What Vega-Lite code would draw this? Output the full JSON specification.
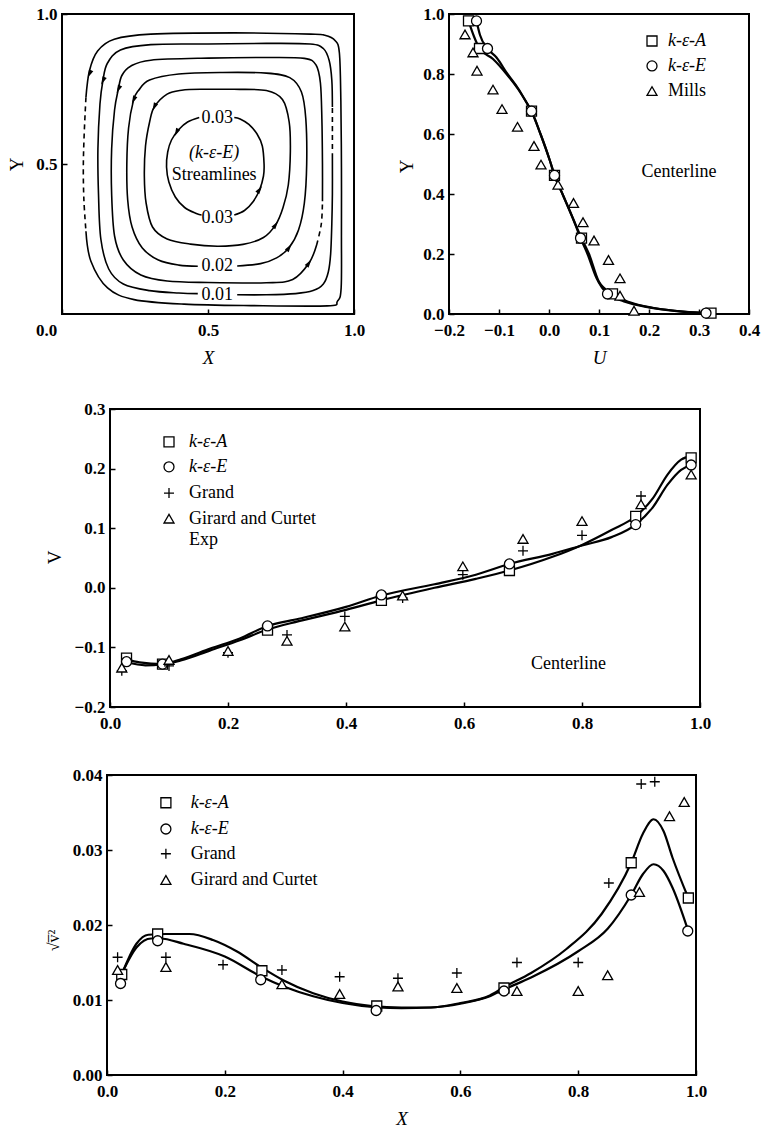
{
  "$schema": "https://vega.github.io/schema/vega-lite/v6.json",
  "background": "white",
  "padding": {"left": 4, "top": 4, "right": 0, "bottom": 0},
  "config": {
    "view": {"stroke": "black", "strokeWidth": 2},
    "font": "Liberation Serif",
    "axis": {"domain": false, "grid": false, "tickSize": -5, "tickColor": "black", "tickWidth": 1.5, "labelFont": "Liberation Serif", "labelFontSize": 17, "labelFontWeight": "bold", "labelColor": "black", "titleFont": "Liberation Serif", "titleFontSize": 19, "titleFontWeight": "normal", "titleColor": "black", "labelFlush": false, "labelOverlap": false},
    "axisX": {"labelPadding": 13, "titlePadding": 10},
    "axisY": {"labelPadding": 10, "titleAngle": 270, "titleBaseline": "middle", "titleAlign": "center"},
    "text": {"font": "Liberation Serif", "fontSize": 18, "color": "black"}
  },
  "datasets": {
    "one": [{}],
    "stream": [
      {"seg": "L1", "i": 1, "x": 0.082, "y": 0.722}, {"seg": "L1", "i": 2, "x": 0.094, "y": 0.811}, {"seg": "L1", "i": 3, "x": 0.122, "y": 0.877}, {"seg": "L1", "i": 4, "x": 0.179, "y": 0.916}, {"seg": "L1", "i": 5, "x": 0.304, "y": 0.933}, {"seg": "L1", "i": 6, "x": 0.589, "y": 0.937}, {"seg": "L1", "i": 7, "x": 0.852, "y": 0.933}, {"seg": "L1", "i": 8, "x": 0.9, "y": 0.929}, {"seg": "L1", "i": 9, "x": 0.935, "y": 0.912}, {"seg": "L1", "i": 10, "x": 0.95, "y": 0.87}, {"seg": "L1", "i": 11, "x": 0.955, "y": 0.71}, {"seg": "L1", "i": 12, "x": 0.957, "y": 0.488}, {"seg": "L1", "i": 13, "x": 0.957, "y": 0.265}, {"seg": "L1", "i": 14, "x": 0.956, "y": 0.087}, {"seg": "L1", "i": 15, "x": 0.943, "y": 0.042}, {"seg": "L1", "i": 16, "x": 0.909, "y": 0.027}, {"seg": "L1", "i": 17, "x": 0.647, "y": 0.028}, {"seg": "L1", "i": 18, "x": 0.418, "y": 0.033}, {"seg": "L1", "i": 19, "x": 0.247, "y": 0.048}, {"seg": "L1", "i": 20, "x": 0.156, "y": 0.087}, {"seg": "L1", "i": 21, "x": 0.099, "y": 0.176}, {"seg": "L1", "i": 22, "x": 0.082, "y": 0.276},
      {"seg": "L2a", "i": 1, "x": 0.6, "y": 0.064}, {"seg": "L2a", "i": 2, "x": 0.7, "y": 0.064}, {"seg": "L2a", "i": 3, "x": 0.8, "y": 0.068}, {"seg": "L2a", "i": 4, "x": 0.86, "y": 0.078}, {"seg": "L2a", "i": 5, "x": 0.895, "y": 0.1}, {"seg": "L2a", "i": 6, "x": 0.912, "y": 0.14}, {"seg": "L2a", "i": 7, "x": 0.92, "y": 0.2}, {"seg": "L2a", "i": 8, "x": 0.924, "y": 0.3}, {"seg": "L2a", "i": 9, "x": 0.926, "y": 0.4}, {"seg": "L2a", "i": 10, "x": 0.926, "y": 0.52},
      {"seg": "L2b", "i": 1, "x": 0.926, "y": 0.69}, {"seg": "L2b", "i": 2, "x": 0.924, "y": 0.78}, {"seg": "L2b", "i": 3, "x": 0.915, "y": 0.845}, {"seg": "L2b", "i": 4, "x": 0.895, "y": 0.885}, {"seg": "L2b", "i": 5, "x": 0.85, "y": 0.9}, {"seg": "L2b", "i": 6, "x": 0.7, "y": 0.902}, {"seg": "L2b", "i": 7, "x": 0.5, "y": 0.9}, {"seg": "L2b", "i": 8, "x": 0.304, "y": 0.898}, {"seg": "L2b", "i": 9, "x": 0.2, "y": 0.88}, {"seg": "L2b", "i": 10, "x": 0.155, "y": 0.835}, {"seg": "L2b", "i": 11, "x": 0.14, "y": 0.777}, {"seg": "L2b", "i": 12, "x": 0.13, "y": 0.7}, {"seg": "L2b", "i": 13, "x": 0.123, "y": 0.55}, {"seg": "L2b", "i": 14, "x": 0.125, "y": 0.4}, {"seg": "L2b", "i": 15, "x": 0.133, "y": 0.25}, {"seg": "L2b", "i": 16, "x": 0.16, "y": 0.15}, {"seg": "L2b", "i": 17, "x": 0.21, "y": 0.1}, {"seg": "L2b", "i": 18, "x": 0.3, "y": 0.078}, {"seg": "L2b", "i": 19, "x": 0.4, "y": 0.07}, {"seg": "L2b", "i": 20, "x": 0.465, "y": 0.068},
      {"seg": "L3", "i": 1, "x": 0.892, "y": 0.376}, {"seg": "L3", "i": 2, "x": 0.892, "y": 0.5}, {"seg": "L3", "i": 3, "x": 0.89, "y": 0.65}, {"seg": "L3", "i": 4, "x": 0.885, "y": 0.77}, {"seg": "L3", "i": 5, "x": 0.87, "y": 0.83}, {"seg": "L3", "i": 6, "x": 0.83, "y": 0.852}, {"seg": "L3", "i": 7, "x": 0.7, "y": 0.855}, {"seg": "L3", "i": 8, "x": 0.5, "y": 0.853}, {"seg": "L3", "i": 9, "x": 0.304, "y": 0.846}, {"seg": "L3", "i": 10, "x": 0.235, "y": 0.826}, {"seg": "L3", "i": 11, "x": 0.205, "y": 0.795}, {"seg": "L3", "i": 12, "x": 0.193, "y": 0.749}, {"seg": "L3", "i": 13, "x": 0.18, "y": 0.68}, {"seg": "L3", "i": 14, "x": 0.17, "y": 0.55}, {"seg": "L3", "i": 15, "x": 0.17, "y": 0.4}, {"seg": "L3", "i": 16, "x": 0.18, "y": 0.26}, {"seg": "L3", "i": 17, "x": 0.21, "y": 0.18}, {"seg": "L3", "i": 18, "x": 0.27, "y": 0.13}, {"seg": "L3", "i": 19, "x": 0.36, "y": 0.11}, {"seg": "L3", "i": 20, "x": 0.5, "y": 0.105}, {"seg": "L3", "i": 21, "x": 0.7, "y": 0.104}, {"seg": "L3", "i": 22, "x": 0.79, "y": 0.115}, {"seg": "L3", "i": 23, "x": 0.846, "y": 0.17}, {"seg": "L3", "i": 24, "x": 0.872, "y": 0.23},
      {"seg": "L4", "i": 1, "x": 0.6, "y": 0.16}, {"seg": "L4", "i": 2, "x": 0.68, "y": 0.168}, {"seg": "L4", "i": 3, "x": 0.735, "y": 0.187}, {"seg": "L4", "i": 4, "x": 0.778, "y": 0.222}, {"seg": "L4", "i": 5, "x": 0.81, "y": 0.28}, {"seg": "L4", "i": 6, "x": 0.83, "y": 0.37}, {"seg": "L4", "i": 7, "x": 0.838, "y": 0.5}, {"seg": "L4", "i": 8, "x": 0.835, "y": 0.65}, {"seg": "L4", "i": 9, "x": 0.82, "y": 0.74}, {"seg": "L4", "i": 10, "x": 0.78, "y": 0.788}, {"seg": "L4", "i": 11, "x": 0.7, "y": 0.803}, {"seg": "L4", "i": 12, "x": 0.55, "y": 0.805}, {"seg": "L4", "i": 13, "x": 0.4, "y": 0.8}, {"seg": "L4", "i": 14, "x": 0.3, "y": 0.78}, {"seg": "L4", "i": 15, "x": 0.262, "y": 0.745}, {"seg": "L4", "i": 16, "x": 0.245, "y": 0.713}, {"seg": "L4", "i": 17, "x": 0.228, "y": 0.62}, {"seg": "L4", "i": 18, "x": 0.222, "y": 0.5}, {"seg": "L4", "i": 19, "x": 0.225, "y": 0.38}, {"seg": "L4", "i": 20, "x": 0.24, "y": 0.29}, {"seg": "L4", "i": 21, "x": 0.275, "y": 0.22}, {"seg": "L4", "i": 22, "x": 0.33, "y": 0.18}, {"seg": "L4", "i": 23, "x": 0.4, "y": 0.163}, {"seg": "L4", "i": 24, "x": 0.465, "y": 0.159},
      {"seg": "L5", "i": 1, "x": 0.475, "y": 0.749}, {"seg": "L5", "i": 2, "x": 0.589, "y": 0.749}, {"seg": "L5", "i": 3, "x": 0.7, "y": 0.745}, {"seg": "L5", "i": 4, "x": 0.755, "y": 0.715}, {"seg": "L5", "i": 5, "x": 0.778, "y": 0.64}, {"seg": "L5", "i": 6, "x": 0.782, "y": 0.54}, {"seg": "L5", "i": 7, "x": 0.775, "y": 0.43}, {"seg": "L5", "i": 8, "x": 0.757, "y": 0.355}, {"seg": "L5", "i": 9, "x": 0.732, "y": 0.298}, {"seg": "L5", "i": 10, "x": 0.69, "y": 0.255}, {"seg": "L5", "i": 11, "x": 0.62, "y": 0.232}, {"seg": "L5", "i": 12, "x": 0.532, "y": 0.226}, {"seg": "L5", "i": 13, "x": 0.44, "y": 0.233}, {"seg": "L5", "i": 14, "x": 0.36, "y": 0.25}, {"seg": "L5", "i": 15, "x": 0.31, "y": 0.29}, {"seg": "L5", "i": 16, "x": 0.288, "y": 0.37}, {"seg": "L5", "i": 17, "x": 0.282, "y": 0.46}, {"seg": "L5", "i": 18, "x": 0.286, "y": 0.56}, {"seg": "L5", "i": 19, "x": 0.3, "y": 0.64}, {"seg": "L5", "i": 20, "x": 0.316, "y": 0.69}, {"seg": "L5", "i": 21, "x": 0.36, "y": 0.733}, {"seg": "L5", "i": 22, "x": 0.41, "y": 0.746}, {"seg": "L5", "i": 23, "x": 0.475, "y": 0.749},
      {"seg": "L6a", "i": 1, "x": 0.47, "y": 0.655}, {"seg": "L6a", "i": 2, "x": 0.43, "y": 0.64}, {"seg": "L6a", "i": 3, "x": 0.4, "y": 0.615}, {"seg": "L6a", "i": 4, "x": 0.375, "y": 0.58}, {"seg": "L6a", "i": 5, "x": 0.362, "y": 0.54}, {"seg": "L6a", "i": 6, "x": 0.358, "y": 0.49}, {"seg": "L6a", "i": 7, "x": 0.366, "y": 0.44}, {"seg": "L6a", "i": 8, "x": 0.388, "y": 0.39}, {"seg": "L6a", "i": 9, "x": 0.42, "y": 0.355}, {"seg": "L6a", "i": 10, "x": 0.46, "y": 0.335}, {"seg": "L6a", "i": 11, "x": 0.478, "y": 0.33},
      {"seg": "L6b", "i": 1, "x": 0.59, "y": 0.33}, {"seg": "L6b", "i": 2, "x": 0.625, "y": 0.345}, {"seg": "L6b", "i": 3, "x": 0.655, "y": 0.375}, {"seg": "L6b", "i": 4, "x": 0.677, "y": 0.415}, {"seg": "L6b", "i": 5, "x": 0.69, "y": 0.46}, {"seg": "L6b", "i": 6, "x": 0.692, "y": 0.5}, {"seg": "L6b", "i": 7, "x": 0.686, "y": 0.56}, {"seg": "L6b", "i": 8, "x": 0.668, "y": 0.6}, {"seg": "L6b", "i": 9, "x": 0.64, "y": 0.632}, {"seg": "L6b", "i": 10, "x": 0.61, "y": 0.65}, {"seg": "L6b", "i": 11, "x": 0.59, "y": 0.655}
    ],
    "streamDash": [
      {"seg": "D1", "i": 1, "x": 0.082, "y": 0.722}, {"seg": "D1", "i": 2, "x": 0.076, "y": 0.6}, {"seg": "D1", "i": 3, "x": 0.073, "y": 0.49}, {"seg": "D1", "i": 4, "x": 0.075, "y": 0.38}, {"seg": "D1", "i": 5, "x": 0.082, "y": 0.276},
      {"seg": "D2", "i": 1, "x": 0.926, "y": 0.52}, {"seg": "D2", "i": 2, "x": 0.926, "y": 0.6}, {"seg": "D2", "i": 3, "x": 0.926, "y": 0.69},
      {"seg": "D3", "i": 1, "x": 0.872, "y": 0.23}, {"seg": "D3", "i": 2, "x": 0.888, "y": 0.3}, {"seg": "D3", "i": 3, "x": 0.892, "y": 0.376}
    ],
    "arrowsDown": [
      {"x": 0.094, "y": 0.8}, {"x": 0.14, "y": 0.777}, {"x": 0.193, "y": 0.749}, {"x": 0.245, "y": 0.713}, {"x": 0.316, "y": 0.69}, {"x": 0.392, "y": 0.605}
    ],
    "arrowsUp": [
      {"x": 0.846, "y": 0.17}, {"x": 0.778, "y": 0.222}, {"x": 0.732, "y": 0.298}, {"x": 0.677, "y": 0.415}
    ],
    "streamLabels": [
      {"x": 0.532, "y": 0.655, "label": "0.03"}, {"x": 0.532, "y": 0.321, "label": "0.03"}, {"x": 0.532, "y": 0.159, "label": "0.02"}, {"x": 0.532, "y": 0.065, "label": "0.01"}, {"x": 0.521, "y": 0.465, "label": "Streamlines"}
    ],
    "streamItalic": [
      {"x": 0.521, "y": 0.538, "label": "(k-ε-E)"}
    ],
    "uPts": [
      {"series": "k-ε-A", "U": -0.161, "Y": 0.977}, {"series": "k-ε-A", "U": -0.139, "Y": 0.885}, {"series": "k-ε-A", "U": -0.035, "Y": 0.676}, {"series": "k-ε-A", "U": 0.011, "Y": 0.462}, {"series": "k-ε-A", "U": 0.065, "Y": 0.253}, {"series": "k-ε-A", "U": 0.127, "Y": 0.067}, {"series": "k-ε-A", "U": 0.324, "Y": 0.003},
      {"series": "k-ε-E", "U": -0.145, "Y": 0.977}, {"series": "k-ε-E", "U": -0.123, "Y": 0.885}, {"series": "k-ε-E", "U": -0.035, "Y": 0.676}, {"series": "k-ε-E", "U": 0.011, "Y": 0.462}, {"series": "k-ε-E", "U": 0.063, "Y": 0.253}, {"series": "k-ε-E", "U": 0.117, "Y": 0.067}, {"series": "k-ε-E", "U": 0.314, "Y": 0.003},
      {"series": "Mills", "U": -0.168, "Y": 0.932}, {"series": "Mills", "U": -0.152, "Y": 0.872}, {"series": "Mills", "U": -0.144, "Y": 0.811}, {"series": "Mills", "U": -0.112, "Y": 0.748}, {"series": "Mills", "U": -0.094, "Y": 0.683}, {"series": "Mills", "U": -0.063, "Y": 0.624}, {"series": "Mills", "U": -0.03, "Y": 0.56}, {"series": "Mills", "U": -0.016, "Y": 0.498}, {"series": "Mills", "U": 0.018, "Y": 0.431}, {"series": "Mills", "U": 0.049, "Y": 0.37}, {"series": "Mills", "U": 0.068, "Y": 0.306}, {"series": "Mills", "U": 0.09, "Y": 0.245}, {"series": "Mills", "U": 0.119, "Y": 0.18}, {"series": "Mills", "U": 0.142, "Y": 0.119}, {"series": "Mills", "U": 0.142, "Y": 0.061}, {"series": "Mills", "U": 0.17, "Y": 0.011}
    ],
    "uCurve": [
      {"series": "k-ε-A", "U": -0.161, "Y": 0.977}, {"series": "k-ε-A", "U": -0.15, "Y": 0.925}, {"series": "k-ε-A", "U": -0.139, "Y": 0.885}, {"series": "k-ε-A", "U": -0.112, "Y": 0.85}, {"series": "k-ε-A", "U": -0.085, "Y": 0.8}, {"series": "k-ε-A", "U": -0.062, "Y": 0.75}, {"series": "k-ε-A", "U": -0.045, "Y": 0.705}, {"series": "k-ε-A", "U": -0.035, "Y": 0.676}, {"series": "k-ε-A", "U": -0.017, "Y": 0.6}, {"series": "k-ε-A", "U": 0.002, "Y": 0.51}, {"series": "k-ε-A", "U": 0.011, "Y": 0.462}, {"series": "k-ε-A", "U": 0.027, "Y": 0.4}, {"series": "k-ε-A", "U": 0.05, "Y": 0.31}, {"series": "k-ε-A", "U": 0.065, "Y": 0.253}, {"series": "k-ε-A", "U": 0.08, "Y": 0.2}, {"series": "k-ε-A", "U": 0.1, "Y": 0.107}, {"series": "k-ε-A", "U": 0.127, "Y": 0.067}, {"series": "k-ε-A", "U": 0.16, "Y": 0.04}, {"series": "k-ε-A", "U": 0.21, "Y": 0.02}, {"series": "k-ε-A", "U": 0.27, "Y": 0.008}, {"series": "k-ε-A", "U": 0.324, "Y": 0.003},
      {"series": "k-ε-E", "U": -0.145, "Y": 0.977}, {"series": "k-ε-E", "U": -0.138, "Y": 0.93}, {"series": "k-ε-E", "U": -0.123, "Y": 0.885}, {"series": "k-ε-E", "U": -0.105, "Y": 0.855}, {"series": "k-ε-E", "U": -0.083, "Y": 0.8}, {"series": "k-ε-E", "U": -0.061, "Y": 0.75}, {"series": "k-ε-E", "U": -0.045, "Y": 0.705}, {"series": "k-ε-E", "U": -0.035, "Y": 0.676}, {"series": "k-ε-E", "U": -0.017, "Y": 0.6}, {"series": "k-ε-E", "U": 0.002, "Y": 0.51}, {"series": "k-ε-E", "U": 0.011, "Y": 0.462}, {"series": "k-ε-E", "U": 0.027, "Y": 0.4}, {"series": "k-ε-E", "U": 0.05, "Y": 0.31}, {"series": "k-ε-E", "U": 0.063, "Y": 0.253}, {"series": "k-ε-E", "U": 0.077, "Y": 0.2}, {"series": "k-ε-E", "U": 0.095, "Y": 0.12}, {"series": "k-ε-E", "U": 0.117, "Y": 0.067}, {"series": "k-ε-E", "U": 0.15, "Y": 0.042}, {"series": "k-ε-E", "U": 0.2, "Y": 0.022}, {"series": "k-ε-E", "U": 0.26, "Y": 0.009}, {"series": "k-ε-E", "U": 0.314, "Y": 0.003}
    ],
    "vPts": [
      {"series": "k-ε-A", "X": 0.028, "V": -0.118}, {"series": "k-ε-A", "X": 0.089, "V": -0.128}, {"series": "k-ε-A", "X": 0.267, "V": -0.071}, {"series": "k-ε-A", "X": 0.46, "V": -0.021}, {"series": "k-ε-A", "X": 0.677, "V": 0.029}, {"series": "k-ε-A", "X": 0.891, "V": 0.12}, {"series": "k-ε-A", "X": 0.985, "V": 0.218},
      {"series": "k-ε-E", "X": 0.028, "V": -0.124}, {"series": "k-ε-E", "X": 0.089, "V": -0.128}, {"series": "k-ε-E", "X": 0.267, "V": -0.064}, {"series": "k-ε-E", "X": 0.46, "V": -0.012}, {"series": "k-ε-E", "X": 0.677, "V": 0.04}, {"series": "k-ε-E", "X": 0.891, "V": 0.106}, {"series": "k-ε-E", "X": 0.985, "V": 0.206},
      {"series": "Grand", "X": 0.02, "V": -0.139}, {"series": "Grand", "X": 0.1, "V": -0.131}, {"series": "Grand", "X": 0.2, "V": -0.109}, {"series": "Grand", "X": 0.3, "V": -0.079}, {"series": "Grand", "X": 0.398, "V": -0.048}, {"series": "Grand", "X": 0.496, "V": -0.017}, {"series": "Grand", "X": 0.598, "V": 0.022}, {"series": "Grand", "X": 0.7, "V": 0.062}, {"series": "Grand", "X": 0.8, "V": 0.088}, {"series": "Grand", "X": 0.9, "V": 0.154},
      {"series": "Girard and Curtet", "X": 0.02, "V": -0.134}, {"series": "Girard and Curtet", "X": 0.1, "V": -0.121}, {"series": "Girard and Curtet", "X": 0.2, "V": -0.106}, {"series": "Girard and Curtet", "X": 0.3, "V": -0.089}, {"series": "Girard and Curtet", "X": 0.398, "V": -0.065}, {"series": "Girard and Curtet", "X": 0.496, "V": -0.013}, {"series": "Girard and Curtet", "X": 0.598, "V": 0.036}, {"series": "Girard and Curtet", "X": 0.7, "V": 0.082}, {"series": "Girard and Curtet", "X": 0.8, "V": 0.112}, {"series": "Girard and Curtet", "X": 0.9, "V": 0.14}, {"series": "Girard and Curtet", "X": 0.985, "V": 0.19}
    ],
    "vCurve": [
      {"series": "k-ε-A", "X": 0.028, "V": -0.12}, {"series": "k-ε-A", "X": 0.05, "V": -0.125}, {"series": "k-ε-A", "X": 0.089, "V": -0.128}, {"series": "k-ε-A", "X": 0.12, "V": -0.122}, {"series": "k-ε-A", "X": 0.17, "V": -0.105}, {"series": "k-ε-A", "X": 0.22, "V": -0.088}, {"series": "k-ε-A", "X": 0.267, "V": -0.07}, {"series": "k-ε-A", "X": 0.32, "V": -0.056}, {"series": "k-ε-A", "X": 0.4, "V": -0.037}, {"series": "k-ε-A", "X": 0.46, "V": -0.021}, {"series": "k-ε-A", "X": 0.55, "V": 0.0}, {"series": "k-ε-A", "X": 0.62, "V": 0.015}, {"series": "k-ε-A", "X": 0.677, "V": 0.029}, {"series": "k-ε-A", "X": 0.75, "V": 0.052}, {"series": "k-ε-A", "X": 0.8, "V": 0.072}, {"series": "k-ε-A", "X": 0.85, "V": 0.097}, {"series": "k-ε-A", "X": 0.891, "V": 0.12}, {"series": "k-ε-A", "X": 0.92, "V": 0.15}, {"series": "k-ε-A", "X": 0.945, "V": 0.19}, {"series": "k-ε-A", "X": 0.968, "V": 0.215}, {"series": "k-ε-A", "X": 0.985, "V": 0.221},
      {"series": "k-ε-E", "X": 0.028, "V": -0.125}, {"series": "k-ε-E", "X": 0.06, "V": -0.13}, {"series": "k-ε-E", "X": 0.089, "V": -0.128}, {"series": "k-ε-E", "X": 0.12, "V": -0.12}, {"series": "k-ε-E", "X": 0.17, "V": -0.102}, {"series": "k-ε-E", "X": 0.22, "V": -0.085}, {"series": "k-ε-E", "X": 0.267, "V": -0.064}, {"series": "k-ε-E", "X": 0.32, "V": -0.052}, {"series": "k-ε-E", "X": 0.4, "V": -0.032}, {"series": "k-ε-E", "X": 0.46, "V": -0.013}, {"series": "k-ε-E", "X": 0.55, "V": 0.006}, {"series": "k-ε-E", "X": 0.62, "V": 0.022}, {"series": "k-ε-E", "X": 0.677, "V": 0.04}, {"series": "k-ε-E", "X": 0.75, "V": 0.057}, {"series": "k-ε-E", "X": 0.8, "V": 0.071}, {"series": "k-ε-E", "X": 0.85, "V": 0.085}, {"series": "k-ε-E", "X": 0.891, "V": 0.106}, {"series": "k-ε-E", "X": 0.92, "V": 0.135}, {"series": "k-ε-E", "X": 0.945, "V": 0.173}, {"series": "k-ε-E", "X": 0.968, "V": 0.198}, {"series": "k-ε-E", "X": 0.985, "V": 0.206}
    ],
    "wPts": [
      {"series": "k-ε-A", "X": 0.025, "W": 0.0134}, {"series": "k-ε-A", "X": 0.086, "W": 0.0188}, {"series": "k-ε-A", "X": 0.263, "W": 0.0139}, {"series": "k-ε-A", "X": 0.458, "W": 0.0092}, {"series": "k-ε-A", "X": 0.674, "W": 0.0116}, {"series": "k-ε-A", "X": 0.89, "W": 0.0283}, {"series": "k-ε-A", "X": 0.987, "W": 0.0236},
      {"series": "k-ε-E", "X": 0.023, "W": 0.0122}, {"series": "k-ε-E", "X": 0.086, "W": 0.0179}, {"series": "k-ε-E", "X": 0.261, "W": 0.0127}, {"series": "k-ε-E", "X": 0.457, "W": 0.0086}, {"series": "k-ε-E", "X": 0.674, "W": 0.0112}, {"series": "k-ε-E", "X": 0.89, "W": 0.024}, {"series": "k-ε-E", "X": 0.986, "W": 0.0192},
      {"series": "Grand", "X": 0.018, "W": 0.0157}, {"series": "Grand", "X": 0.1, "W": 0.0157}, {"series": "Grand", "X": 0.197, "W": 0.0147}, {"series": "Grand", "X": 0.297, "W": 0.014}, {"series": "Grand", "X": 0.395, "W": 0.0131}, {"series": "Grand", "X": 0.494, "W": 0.0129}, {"series": "Grand", "X": 0.594, "W": 0.0136}, {"series": "Grand", "X": 0.696, "W": 0.015}, {"series": "Grand", "X": 0.8, "W": 0.015}, {"series": "Grand", "X": 0.852, "W": 0.0256}, {"series": "Grand", "X": 0.907, "W": 0.0388}, {"series": "Grand", "X": 0.93, "W": 0.0391},
      {"series": "Girard and Curtet", "X": 0.018, "W": 0.014}, {"series": "Girard and Curtet", "X": 0.1, "W": 0.0144}, {"series": "Girard and Curtet", "X": 0.297, "W": 0.0121}, {"series": "Girard and Curtet", "X": 0.395, "W": 0.0108}, {"series": "Girard and Curtet", "X": 0.494, "W": 0.0118}, {"series": "Girard and Curtet", "X": 0.594, "W": 0.0116}, {"series": "Girard and Curtet", "X": 0.696, "W": 0.0112}, {"series": "Girard and Curtet", "X": 0.8, "W": 0.0112}, {"series": "Girard and Curtet", "X": 0.85, "W": 0.0133}, {"series": "Girard and Curtet", "X": 0.904, "W": 0.0244}, {"series": "Girard and Curtet", "X": 0.955, "W": 0.0345}, {"series": "Girard and Curtet", "X": 0.98, "W": 0.0364}
    ],
    "wCurve": [
      {"series": "k-ε-A", "X": 0.025, "W": 0.0134}, {"series": "k-ε-A", "X": 0.05, "W": 0.0175}, {"series": "k-ε-A", "X": 0.07, "W": 0.0187}, {"series": "k-ε-A", "X": 0.1, "W": 0.0188}, {"series": "k-ε-A", "X": 0.14, "W": 0.0188}, {"series": "k-ε-A", "X": 0.18, "W": 0.018}, {"series": "k-ε-A", "X": 0.22, "W": 0.0165}, {"series": "k-ε-A", "X": 0.263, "W": 0.0143}, {"series": "k-ε-A", "X": 0.3, "W": 0.0126}, {"series": "k-ε-A", "X": 0.35, "W": 0.0109}, {"series": "k-ε-A", "X": 0.4, "W": 0.0098}, {"series": "k-ε-A", "X": 0.45, "W": 0.0092}, {"series": "k-ε-A", "X": 0.5, "W": 0.009}, {"series": "k-ε-A", "X": 0.55, "W": 0.009}, {"series": "k-ε-A", "X": 0.6, "W": 0.0096}, {"series": "k-ε-A", "X": 0.65, "W": 0.0106}, {"series": "k-ε-A", "X": 0.674, "W": 0.0117}, {"series": "k-ε-A", "X": 0.72, "W": 0.0136}, {"series": "k-ε-A", "X": 0.78, "W": 0.0168}, {"series": "k-ε-A", "X": 0.84, "W": 0.0215}, {"series": "k-ε-A", "X": 0.89, "W": 0.0283}, {"series": "k-ε-A", "X": 0.91, "W": 0.0322}, {"series": "k-ε-A", "X": 0.928, "W": 0.0341}, {"series": "k-ε-A", "X": 0.945, "W": 0.0325}, {"series": "k-ε-A", "X": 0.96, "W": 0.029}, {"series": "k-ε-A", "X": 0.987, "W": 0.0236},
      {"series": "k-ε-E", "X": 0.025, "W": 0.0135}, {"series": "k-ε-E", "X": 0.05, "W": 0.017}, {"series": "k-ε-E", "X": 0.075, "W": 0.0182}, {"series": "k-ε-E", "X": 0.09, "W": 0.0182}, {"series": "k-ε-E", "X": 0.13, "W": 0.0175}, {"series": "k-ε-E", "X": 0.2, "W": 0.0158}, {"series": "k-ε-E", "X": 0.26, "W": 0.0132}, {"series": "k-ε-E", "X": 0.3, "W": 0.0118}, {"series": "k-ε-E", "X": 0.35, "W": 0.0105}, {"series": "k-ε-E", "X": 0.4, "W": 0.0096}, {"series": "k-ε-E", "X": 0.46, "W": 0.009}, {"series": "k-ε-E", "X": 0.5, "W": 0.0089}, {"series": "k-ε-E", "X": 0.55, "W": 0.009}, {"series": "k-ε-E", "X": 0.6, "W": 0.0095}, {"series": "k-ε-E", "X": 0.65, "W": 0.0105}, {"series": "k-ε-E", "X": 0.674, "W": 0.0114}, {"series": "k-ε-E", "X": 0.72, "W": 0.013}, {"series": "k-ε-E", "X": 0.8, "W": 0.0165}, {"series": "k-ε-E", "X": 0.85, "W": 0.0195}, {"series": "k-ε-E", "X": 0.89, "W": 0.024}, {"series": "k-ε-E", "X": 0.91, "W": 0.0268}, {"series": "k-ε-E", "X": 0.928, "W": 0.0281}, {"series": "k-ε-E", "X": 0.945, "W": 0.0272}, {"series": "k-ε-E", "X": 0.96, "W": 0.025}, {"series": "k-ε-E", "X": 0.986, "W": 0.0194}
    ]
  },
  "spacing": 32,
  "resolve": {"scale": {"shape": "independent", "x": "independent", "y": "independent"}},
  "vconcat": [
    {
      "spacing": 27,
      "resolve": {"scale": {"shape": "independent", "x": "independent", "y": "independent"}},
      "hconcat": [
        {
          "width": 292, "height": 300,
          "layer": [
            {
              "data": {"name": "stream"},
              "mark": {"type": "line", "interpolate": "cardinal", "color": "black", "strokeWidth": 1.6},
              "encoding": {
                "x": {"field": "x", "type": "quantitative", "scale": {"domain": [0, 1]}, "axis": {"values": [0, 0.5, 1], "format": ".1f", "title": "X", "titleFontStyle": "italic", "labelOffset": {"condition": {"test": "datum.value == 0", "value": -16}, "value": 0}}},
                "y": {"field": "y", "type": "quantitative", "scale": {"domain": [0, 1]}, "axis": {"values": [0.5, 1], "format": ".1f", "title": "Y", "titleX": -46, "titleY": 150, "minExtent": 57}},
                "detail": {"field": "seg"},
                "order": {"field": "i"}
              }
            },
            {
              "data": {"name": "streamDash"},
              "mark": {"type": "line", "interpolate": "cardinal", "color": "black", "strokeWidth": 1.6, "strokeDash": [5, 4]},
              "encoding": {"x": {"field": "x", "type": "quantitative"}, "y": {"field": "y", "type": "quantitative"}, "detail": {"field": "seg"}, "order": {"field": "i"}}
            },
            {
              "data": {"name": "arrowsDown"},
              "mark": {"type": "point", "shape": "M0,-1L0.55,1L-0.55,1Z", "filled": true, "color": "black", "size": 70, "angle": 205, "opacity": 1},
              "encoding": {"x": {"field": "x", "type": "quantitative"}, "y": {"field": "y", "type": "quantitative"}}
            },
            {
              "data": {"name": "arrowsUp"},
              "mark": {"type": "point", "shape": "M0,-1L0.55,1L-0.55,1Z", "filled": true, "color": "black", "size": 70, "angle": 35, "opacity": 1},
              "encoding": {"x": {"field": "x", "type": "quantitative"}, "y": {"field": "y", "type": "quantitative"}}
            },
            {
              "data": {"name": "streamLabels"},
              "mark": {"type": "text", "fontSize": 18},
              "encoding": {"x": {"field": "x", "type": "quantitative"}, "y": {"field": "y", "type": "quantitative"}, "text": {"field": "label"}}
            },
            {
              "data": {"name": "streamItalic"},
              "mark": {"type": "text", "fontSize": 18, "fontStyle": "italic"},
              "encoding": {"x": {"field": "x", "type": "quantitative"}, "y": {"field": "y", "type": "quantitative"}, "text": {"field": "label"}}
            }
          ]
        },
        {
          "width": 300, "height": 300,
          "layer": [
            {
              "data": {"name": "uCurve"},
              "mark": {"type": "line", "interpolate": "monotone", "color": "black", "strokeWidth": 2.2},
              "encoding": {
                "x": {"field": "U", "type": "quantitative", "scale": {"domain": [-0.2, 0.4]}, "axis": {"values": [-0.2, -0.1, 0, 0.1, 0.2, 0.3, 0.4], "format": ".1f", "title": "U", "titleFontStyle": "italic"}},
                "y": {"field": "Y", "type": "quantitative", "scale": {"domain": [0, 1]}, "axis": {"values": [0, 0.2, 0.4, 0.6, 0.8, 1], "format": ".1f", "title": "Y", "titleX": -43, "titleY": 152, "minExtent": 55}},
                "detail": {"field": "series"}
              }
            },
            {
              "data": {"name": "uPts"},
              "mark": {"type": "point", "filled": true, "fill": "white", "stroke": "black", "strokeWidth": 1.3, "size": 100, "opacity": 1},
              "encoding": {
                "x": {"field": "U", "type": "quantitative"},
                "y": {"field": "Y", "type": "quantitative"},
                "shape": {"field": "series", "type": "nominal", "scale": {"domain": ["k-ε-A", "k-ε-E", "Mills"], "range": ["square", "circle", "triangle-up"]}, "legend": null}
              }
            },
            {"data": {"name": "one"}, "mark": {"type": "point", "shape": "square", "filled": true, "fill": "white", "stroke": "black", "strokeWidth": 1.3, "size": 100, "opacity": 1}, "encoding": {"x": {"datum": 0.206}, "y": {"datum": 0.91}}},
            {"data": {"name": "one"}, "mark": {"type": "point", "shape": "circle", "filled": true, "fill": "white", "stroke": "black", "strokeWidth": 1.3, "size": 100, "opacity": 1}, "encoding": {"x": {"datum": 0.206}, "y": {"datum": 0.827}}},
            {"data": {"name": "one"}, "mark": {"type": "point", "shape": "triangle-up", "filled": true, "fill": "white", "stroke": "black", "strokeWidth": 1.3, "size": 100, "opacity": 1}, "encoding": {"x": {"datum": 0.206}, "y": {"datum": 0.743}}},
            {"data": {"name": "one"}, "mark": {"type": "text", "text": "k-ε-A", "fontStyle": "italic", "align": "left", "baseline": "middle"}, "encoding": {"x": {"datum": 0.238}, "y": {"datum": 0.91}}},
            {"data": {"name": "one"}, "mark": {"type": "text", "text": "k-ε-E", "fontStyle": "italic", "align": "left", "baseline": "middle"}, "encoding": {"x": {"datum": 0.238}, "y": {"datum": 0.827}}},
            {"data": {"name": "one"}, "mark": {"type": "text", "text": "Mills", "align": "left", "baseline": "middle"}, "encoding": {"x": {"datum": 0.238}, "y": {"datum": 0.743}}},
            {"data": {"name": "one"}, "mark": {"type": "text", "text": "Centerline"}, "encoding": {"x": {"datum": 0.26}, "y": {"datum": 0.473}}}
          ]
        }
      ]
    },
    {
      "spacing": 35,
      "resolve": {"scale": {"shape": "independent", "x": "independent", "y": "independent"}},
      "vconcat": [
        {
          "width": 638, "height": 298,
          "view": {"stroke": null},
          "layer": [
            {
              "data": {"name": "one"},
              "mark": {"type": "rect", "fill": "transparent", "stroke": "black", "strokeWidth": 2},
              "encoding": {
                "x": {"datum": 0, "type": "quantitative", "scale": {"domain": [0, 1], "range": [48, 638]}, "axis": {"values": [0, 0.2, 0.4, 0.6, 0.8, 1], "format": ".1f", "title": null}},
                "x2": {"datum": 1},
                "y": {"datum": -0.2, "type": "quantitative", "scale": {"domain": [-0.2, 0.3]}, "axis": {"values": [-0.2, -0.1, 0, 0.1, 0.2, 0.3], "format": ".1f", "title": "V", "offset": -48, "titleX": -56, "titleY": 148}},
                "y2": {"datum": 0.3}
              }
            },
            {
              "data": {"name": "vCurve"},
              "mark": {"type": "line", "interpolate": "monotone", "color": "black", "strokeWidth": 2.2},
              "encoding": {"x": {"field": "X", "type": "quantitative"}, "y": {"field": "V", "type": "quantitative"}, "detail": {"field": "series"}}
            },
            {
              "data": {"name": "vPts"},
              "mark": {"type": "point", "filled": true, "fill": "white", "stroke": "black", "strokeWidth": 1.3, "size": 100, "opacity": 1},
              "encoding": {
                "x": {"field": "X", "type": "quantitative"},
                "y": {"field": "V", "type": "quantitative"},
                "shape": {"field": "series", "type": "nominal", "scale": {"domain": ["k-ε-A", "k-ε-E", "Grand", "Girard and Curtet"], "range": ["square", "circle", "M-1,0L1,0M0,-1L0,1", "triangle-up"]}, "legend": null}
              }
            },
            {"data": {"name": "one"}, "mark": {"type": "point", "shape": "square", "filled": true, "fill": "white", "stroke": "black", "strokeWidth": 1.3, "size": 100, "opacity": 1}, "encoding": {"x": {"datum": 0.1}, "y": {"datum": 0.245}}},
            {"data": {"name": "one"}, "mark": {"type": "point", "shape": "circle", "filled": true, "fill": "white", "stroke": "black", "strokeWidth": 1.3, "size": 100, "opacity": 1}, "encoding": {"x": {"datum": 0.1}, "y": {"datum": 0.203}}},
            {"data": {"name": "one"}, "mark": {"type": "point", "shape": "M-1,0L1,0M0,-1L0,1", "filled": false, "stroke": "black", "strokeWidth": 1.3, "size": 100, "opacity": 1}, "encoding": {"x": {"datum": 0.1}, "y": {"datum": 0.159}}},
            {"data": {"name": "one"}, "mark": {"type": "point", "shape": "triangle-up", "filled": true, "fill": "white", "stroke": "black", "strokeWidth": 1.3, "size": 100, "opacity": 1}, "encoding": {"x": {"datum": 0.1}, "y": {"datum": 0.116}}},
            {"data": {"name": "one"}, "mark": {"type": "text", "text": "k-ε-A", "fontStyle": "italic", "align": "left", "baseline": "middle"}, "encoding": {"x": {"datum": 0.134}, "y": {"datum": 0.245}}},
            {"data": {"name": "one"}, "mark": {"type": "text", "text": "k-ε-E", "fontStyle": "italic", "align": "left", "baseline": "middle"}, "encoding": {"x": {"datum": 0.134}, "y": {"datum": 0.203}}},
            {"data": {"name": "one"}, "mark": {"type": "text", "text": "Grand", "align": "left", "baseline": "middle"}, "encoding": {"x": {"datum": 0.134}, "y": {"datum": 0.159}}},
            {"data": {"name": "one"}, "mark": {"type": "text", "text": "Girard  and  Curtet", "align": "left", "baseline": "middle"}, "encoding": {"x": {"datum": 0.134}, "y": {"datum": 0.116}}},
            {"data": {"name": "one"}, "mark": {"type": "text", "text": "Exp", "align": "left", "baseline": "middle"}, "encoding": {"x": {"datum": 0.134}, "y": {"datum": 0.081}}},
            {"data": {"name": "one"}, "mark": {"type": "text", "text": "Centerline"}, "encoding": {"x": {"datum": 0.777}, "y": {"datum": -0.128}}}
          ]
        },
        {
          "width": 634, "height": 300,
          "view": {"stroke": null},
          "layer": [
            {
              "data": {"name": "one"},
              "mark": {"type": "rect", "fill": "transparent", "stroke": "black", "strokeWidth": 2},
              "encoding": {
                "x": {"datum": 0, "type": "quantitative", "scale": {"domain": [0, 1], "range": [45, 634]}, "axis": {"values": [0, 0.2, 0.4, 0.6, 0.8, 1], "format": ".1f", "title": "X", "titleFontStyle": "italic"}},
                "x2": {"datum": 1},
                "y": {"datum": 0, "type": "quantitative", "scale": {"domain": [0, 0.04]}, "axis": {"values": [0, 0.01, 0.02, 0.03, 0.04], "format": ".2f", "title": "√v̅²", "titleFontSize": 16, "offset": -45, "titleX": -54, "titleY": 165}},
                "y2": {"datum": 0.04}
              }
            },
            {
              "data": {"name": "wCurve"},
              "mark": {"type": "line", "interpolate": "monotone", "color": "black", "strokeWidth": 2.2},
              "encoding": {"x": {"field": "X", "type": "quantitative"}, "y": {"field": "W", "type": "quantitative"}, "detail": {"field": "series"}}
            },
            {
              "data": {"name": "wPts"},
              "mark": {"type": "point", "filled": true, "fill": "white", "stroke": "black", "strokeWidth": 1.3, "size": 100, "opacity": 1},
              "encoding": {
                "x": {"field": "X", "type": "quantitative"},
                "y": {"field": "W", "type": "quantitative"},
                "shape": {"field": "series", "type": "nominal", "scale": {"domain": ["k-ε-A", "k-ε-E", "Grand", "Girard and Curtet"], "range": ["square", "circle", "M-1,0L1,0M0,-1L0,1", "triangle-up"]}, "legend": null}
              }
            },
            {"data": {"name": "one"}, "mark": {"type": "point", "shape": "square", "filled": true, "fill": "white", "stroke": "black", "strokeWidth": 1.3, "size": 100, "opacity": 1}, "encoding": {"x": {"datum": 0.1}, "y": {"datum": 0.0363}}},
            {"data": {"name": "one"}, "mark": {"type": "point", "shape": "circle", "filled": true, "fill": "white", "stroke": "black", "strokeWidth": 1.3, "size": 100, "opacity": 1}, "encoding": {"x": {"datum": 0.1}, "y": {"datum": 0.0328}}},
            {"data": {"name": "one"}, "mark": {"type": "point", "shape": "M-1,0L1,0M0,-1L0,1", "filled": false, "stroke": "black", "strokeWidth": 1.3, "size": 100, "opacity": 1}, "encoding": {"x": {"datum": 0.1}, "y": {"datum": 0.0295}}},
            {"data": {"name": "one"}, "mark": {"type": "point", "shape": "triangle-up", "filled": true, "fill": "white", "stroke": "black", "strokeWidth": 1.3, "size": 100, "opacity": 1}, "encoding": {"x": {"datum": 0.1}, "y": {"datum": 0.026}}},
            {"data": {"name": "one"}, "mark": {"type": "text", "text": "k-ε-A", "fontStyle": "italic", "align": "left", "baseline": "middle"}, "encoding": {"x": {"datum": 0.142}, "y": {"datum": 0.0363}}},
            {"data": {"name": "one"}, "mark": {"type": "text", "text": "k-ε-E", "fontStyle": "italic", "align": "left", "baseline": "middle"}, "encoding": {"x": {"datum": 0.142}, "y": {"datum": 0.0328}}},
            {"data": {"name": "one"}, "mark": {"type": "text", "text": "Grand", "align": "left", "baseline": "middle"}, "encoding": {"x": {"datum": 0.142}, "y": {"datum": 0.0295}}},
            {"data": {"name": "one"}, "mark": {"type": "text", "text": "Girard  and  Curtet", "align": "left", "baseline": "middle"}, "encoding": {"x": {"datum": 0.142}, "y": {"datum": 0.026}}}
          ]
        }
      ]
    }
  ]
}
